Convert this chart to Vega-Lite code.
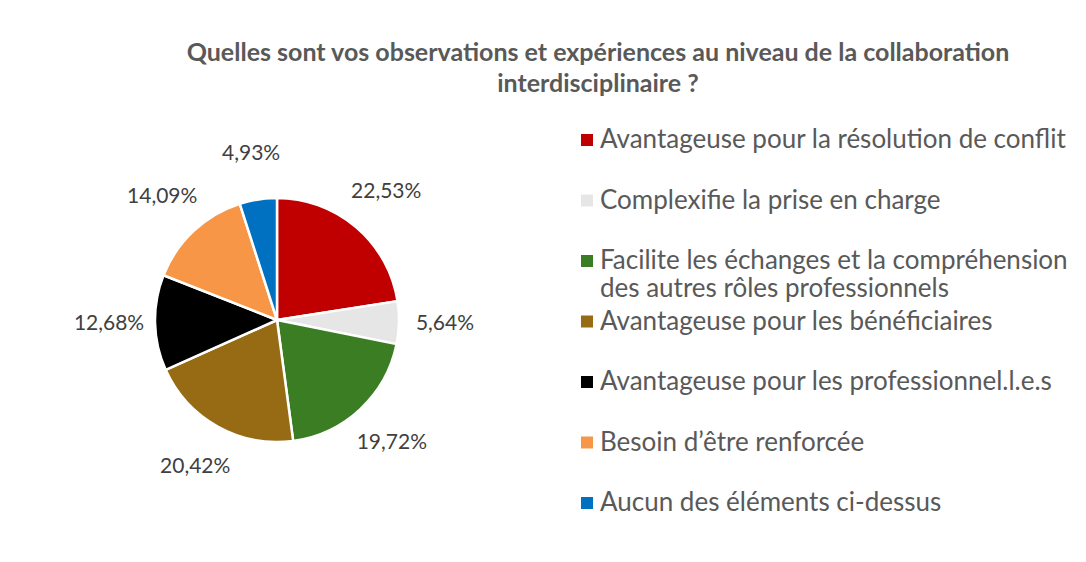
{
  "$schema": "https://vega.github.io/schema/vega-lite/v6.json",
  "autosize": {"type": "none"},
  "width": 554,
  "height": 480,
  "padding": {"left": 0, "top": 80, "right": 532, "bottom": 2},
  "background": "white",
  "config": {"view": {"stroke": null}},
  "title": {
    "text": ["Quelles sont vos observations et expériences au niveau de la collaboration", "interdisciplinaire ?"],
    "font": "Lato",
    "fontSize": 25,
    "fontWeight": "bold",
    "color": "#595959",
    "anchor": "start",
    "align": "center",
    "dx": 598,
    "dy": 17,
    "lineHeight": 31,
    "offset": 0
  },
  "data": {
    "values": [
      {"cat": "Avantageuse pour la résolution de conflit", "pct": 22.53, "label": "22,53%", "ord": 1},
      {"cat": "Complexifie la prise en charge", "pct": 5.64, "label": "5,64%", "ord": 2},
      {"cat": "Facilite les échanges et la compréhension des autres rôles professionnels", "pct": 19.72, "label": "19,72%", "ord": 3},
      {"cat": "Avantageuse pour les bénéficiaires", "pct": 20.42, "label": "20,42%", "ord": 4},
      {"cat": "Avantageuse pour les professionnel.l.e.s", "pct": 12.68, "label": "12,68%", "ord": 5},
      {"cat": "Besoin d’être renforcée", "pct": 14.09, "label": "14,09%", "ord": 6},
      {"cat": "Aucun des éléments ci-dessus", "pct": 4.93, "label": "4,93%", "ord": 7}
    ]
  },
  "encoding": {
    "theta": {"field": "pct", "type": "quantitative", "stack": true},
    "order": {"field": "ord", "type": "quantitative"}
  },
  "layer": [
    {
      "mark": {"type": "arc", "outerRadius": 122, "stroke": "white", "strokeWidth": 2.5},
      "encoding": {
        "color": {
          "field": "cat",
          "type": "nominal",
          "sort": null,
          "scale": {
            "domain": [
              "Avantageuse pour la résolution de conflit",
              "Complexifie la prise en charge",
              "Facilite les échanges et la compréhension des autres rôles professionnels",
              "Avantageuse pour les bénéficiaires",
              "Avantageuse pour les professionnel.l.e.s",
              "Besoin d’être renforcée",
              "Aucun des éléments ci-dessus"
            ],
            "range": ["#C00000", "#E7E6E6", "#3B7D23", "#976A14", "#000000", "#F79646", "#0070C0"]
          },
          "legend": {
            "title": null,
            "orient": "none",
            "legendX": 574,
            "legendY": 47,
            "symbolType": "square",
            "symbolSize": 144,
            "symbolStrokeWidth": 0,
            "labelFont": "Lato",
            "labelFontSize": 26,
            "labelColor": "#595959",
            "labelOffset": 0,
            "labelLimit": 600,
            "labelLineHeight": 29,
            "rowPadding": 6.5,
            "labelExpr": "datum.label == 'Facilite les échanges et la compréhension des autres rôles professionnels' ? ['Facilite les échanges et la compréhension', 'des autres rôles professionnels'] : [datum.label, ' ']"
          }
        }
      }
    },
    {
      "mark": {"type": "text", "radius": 168, "font": "Lato", "fontSize": 21, "color": "#404040"},
      "encoding": {
        "text": {"field": "label", "type": "nominal"}
      }
    }
  ]
}
